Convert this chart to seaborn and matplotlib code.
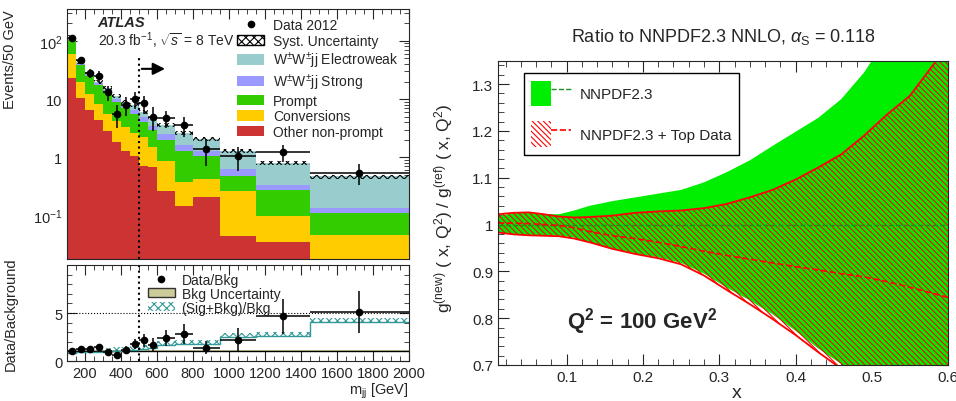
import numpy as np
import pandas as pd
import matplotlib
matplotlib.use('Agg')
import matplotlib.pyplot as plt
from matplotlib.patches import Patch
from matplotlib.lines import Line2D
from matplotlib.ticker import MultipleLocator, LogLocator, NullFormatter
from matplotlib.legend_handler import HandlerTuple
import seaborn as sns

# ---- left: m_jj distribution (events / 50 GeV) ----
edges = [100, 150, 200, 250, 300, 350, 400, 450, 500, 550, 600, 700, 800, 950, 1150, 1450, 2000]
ww_ewk = [5, 3, 1.3, 1.4, 1.3, 1.1, 1.1, 1.3, 1.0, 1.0, 1.1, 0.95, 0.75, 0.67, 0.46, 0.335]
ww_strong = [5, 2, 1.2, 1.2, 1.2, 1.2, 1.0, 0.9, 0.9, 0.5, 0.5, 0.35, 0.25, 0.15, 0.06, 0.025]
prompt = [45, 18.4, 12.5, 9.1, 7.5, 4.8, 3.6, 3.0, 1.9, 1.5, 1.13, 0.92, 0.62, 0.21, 0.183, 0.063]
conversions = [37, 9.1, 5.5, 4.0, 2.7, 2.4, 2.0, 1.55, 1.48, 0.82, 0.60, 0.232, 0.22, 0.225, 0.061, 0.047]
nonprompt = [23, 10.5, 6.5, 4.3, 2.8, 1.8, 1.3, 1.05, 0.72, 0.68, 0.27, 0.148, 0.21, 0.045, 0.036, 0.0]
syst_rel = 0.08

data = [110, 46, 28, 25, 13, 5.5, 8, 10, 8.5, 5, 4.7, 3.6, 1.4, 1.05, 1.25, 0.55]
data_err = [10.5, 6.8, 5.3, 5.0, 3.6, 2.3, 2.8, 3.2, 2.9, 2.2, 1.5, 1.35, 0.68, 0.46, 0.41, 0.22]

ratio = [1.0, 1.3, 1.2, 1.45, 0.95, 0.6, 1.15, 1.75, 2.15, 1.7, 2.4, 2.8, 1.4, 2.2, 4.65, 5.15]
ratio_err = [0.1, 0.18, 0.22, 0.3, 0.27, 0.25, 0.4, 0.55, 0.7, 0.75, 0.85, 1.05, 0.65, 1.2, 1.85, 2.2]
sig_bkg = [1.05, 1.1, 1.1, 1.15, 1.2, 1.25, 1.3, 1.35, 1.45, 1.55, 1.85, 1.95, 2.0, 2.7, 2.85, 4.25]
bkg_unc = 0.1

# ---- right: gluon PDF ratio ----
x_pdf = [0.01, 0.03, 0.05, 0.07, 0.09, 0.11, 0.13, 0.16, 0.19, 0.22, 0.25, 0.28,
         0.31, 0.34, 0.37, 0.40, 0.43, 0.46, 0.49, 0.52, 0.55, 0.58, 0.60]
green_hi = [1.018, 1.024, 1.026, 1.022, 1.022, 1.030, 1.040, 1.050, 1.058, 1.066, 1.074, 1.090,
            1.112, 1.137, 1.168, 1.198, 1.228, 1.268, 1.325, 1.40, 1.48, 1.57, 1.63]
green_lo = [0.983, 0.979, 0.977, 0.977, 0.976, 0.972, 0.962, 0.948, 0.938, 0.930, 0.918, 0.895,
            0.865, 0.838, 0.808, 0.773, 0.735, 0.702, 0.665, 0.63, 0.59, 0.55, 0.52]
green_mid = [1.0] * 23
red_hi = [1.022, 1.025, 1.026, 1.022, 1.017, 1.015, 1.016, 1.019, 1.025, 1.028, 1.030, 1.035,
          1.044, 1.058, 1.074, 1.096, 1.122, 1.150, 1.190, 1.235, 1.275, 1.34, 1.38]
red_lo = [0.983, 0.979, 0.977, 0.976, 0.975, 0.970, 0.962, 0.948, 0.937, 0.928, 0.915, 0.891,
          0.860, 0.830, 0.798, 0.764, 0.727, 0.692, 0.652, 0.61, 0.57, 0.53, 0.50]
red_mid = [1.003, 1.003, 1.002, 1.000, 0.998, 0.993, 0.985, 0.976, 0.970, 0.962, 0.953, 0.943,
           0.934, 0.926, 0.918, 0.910, 0.903, 0.895, 0.888, 0.878, 0.866, 0.853, 0.844]

sns.set_style('ticks')
plt.rcParams['font.family'] = ['Liberation Sans', 'DejaVu Sans']
plt.rcParams['hatch.linewidth'] = 0.8
plt.rcParams['mathtext.fontset'] = 'custom'
plt.rcParams['mathtext.rm'] = 'Liberation Sans'
plt.rcParams['mathtext.it'] = 'Liberation Sans:italic'
plt.rcParams['mathtext.bf'] = 'Liberation Sans:bold'

fig = plt.figure(figsize=(9.56, 4.02), dpi=100)
ax = fig.add_axes([0.0701, 0.353, 0.3577, 0.622])
axr = fig.add_axes([0.0701, 0.0995, 0.3577, 0.2385])
ax2 = fig.add_axes([0.521, 0.0896, 0.4707, 0.757])

edges_a = np.array(edges, dtype=float)
centers = 0.5 * (edges_a[1:] + edges_a[:-1])
halfw = 0.5 * (edges_a[1:] - edges_a[:-1])

names = [r'W$^{\pm}$W$^{\pm}$jj Electroweak', r'W$^{\pm}$W$^{\pm}$jj Strong', 'Prompt',
         'Conversions', 'Other non-prompt']
colors = ['#99cccc', '#9999ff', '#33cc00', '#ffcc00', '#cc3333']
rows = []
for name, vals in zip(names, [ww_ewk, ww_strong, prompt, conversions, nonprompt]):
    for c, v in zip(centers, vals):
        rows.append((name, c, v))
df = pd.DataFrame(rows, columns=['process', 'mjj', 'yield'])

sns.histplot(data=df, x='mjj', weights='yield', hue='process', hue_order=names,
             palette=dict(zip(names, colors)), multiple='stack', bins=edges,
             element='bars', alpha=1, linewidth=0, legend=False, ax=ax)
ax.set_yscale('log')

total = np.sum([ww_ewk, ww_strong, prompt, conversions, nonprompt], axis=0)
lo = np.r_[total * (1 - syst_rel), total[-1] * (1 - syst_rel)]
hi = np.r_[total * (1 + syst_rel), total[-1] * (1 + syst_rel)]
ax.fill_between(edges_a, lo, hi, step='post', facecolor='none', edgecolor='k',
                hatch='xxxx', linewidth=0)
ax.errorbar(centers, data, xerr=halfw, yerr=data_err, fmt='o', color='k', ms=4.5,
            elinewidth=1.1, capsize=0)

ax.set_xlim(100, 2000)
ax.set_ylim(0.018, 350)
ax.vlines(500, 0.018, 57, colors='k', linestyles=':', linewidth=1.5)
ax.annotate('', xy=(660, 33), xytext=(500, 33),
            arrowprops=dict(arrowstyle='-|>', color='k', lw=1.5, mutation_scale=18))
ax.set_xlabel('')
ax.set_ylabel('Events/50 GeV', fontsize=10.5, loc='top')
ax.yaxis.set_label_coords(-0.145, 1.0)
ax.set_yticks([0.1, 1, 10, 100])
ax.set_yticklabels(['10$^{-1}$', '1', '10', '10$^{2}$'])
ax.yaxis.set_minor_locator(LogLocator(base=10, subs=np.arange(2, 10)))
ax.yaxis.set_minor_formatter(NullFormatter())
ax.xaxis.set_major_locator(MultipleLocator(200))
ax.xaxis.set_minor_locator(MultipleLocator(50))
ax.tick_params(axis='x', labelbottom=False)
ax.text(0.09, 0.948, 'ATLAS', transform=ax.transAxes, fontsize=10.5, fontweight='bold',
        fontstyle='italic', va='center')
ax.text(0.09, 0.878, r'20.3 fb$^{-1}$, $\sqrt{s}$ = 8 TeV', transform=ax.transAxes,
        fontsize=10, va='center')

handles = [Line2D([], [], marker='o', color='k', ls='none', ms=4.5),
           Patch(facecolor='white', edgecolor='k', hatch='xxxx', lw=1)]
handles += [Patch(facecolor=c, edgecolor='none') for c in colors]
labels = ['Data 2012', 'Syst. Uncertainty'] + names
ax.legend(handles, labels, loc='upper left', bbox_to_anchor=(0.48, 0.985), frameon=False,
          fontsize=10, handlelength=2.0, handleheight=0.75, labelspacing=0.12,
          handletextpad=0.6, borderaxespad=0)

# ratio panel
axr.fill_between(edges_a, 1 - bkg_unc, 1 + bkg_unc, facecolor='#cccc99', edgecolor='none')
axr.axhline(1, color='k', lw=1)
sb = np.r_[sig_bkg, sig_bkg[-1]]
axr.fill_between(edges_a, sb - 0.2, sb + 0.2, step='post', facecolor='none',
                 edgecolor='#339999', hatch='xxxx', linewidth=0)
axr.step(edges_a, sb - 0.2, where='post', color='#339999', lw=1)
axr.errorbar(centers, ratio, xerr=halfw, yerr=ratio_err, fmt='o', color='k', ms=4.5,
             elinewidth=1.1, capsize=0)
axr.axhline(5, color='k', ls=':', lw=0.8)
axr.axvline(500, color='k', ls=':', lw=1.5)
axr.set_xlim(100, 2000)
axr.set_ylim(0, 10)
axr.set_yticks([0, 5])
axr.yaxis.set_minor_locator(MultipleLocator(1))
axr.xaxis.set_major_locator(MultipleLocator(200))
axr.xaxis.set_minor_locator(MultipleLocator(50))
axr.set_ylabel('Data/Background', fontsize=10.5)
axr.yaxis.set_label_coords(-0.145, 0.5)
axr.set_xlabel(r'm$_{\rm jj}$ [GeV]', fontsize=10.5, loc='right')
axr.xaxis.set_label_coords(1.0, -0.205)
rh = [Line2D([], [], marker='o', color='k', ls='none', ms=4.5),
      Patch(facecolor='#cccc99', edgecolor='#333333', lw=1),
      Patch(facecolor='none', edgecolor='#339999', hatch='xxxx', lw=0)]
axr.legend(rh, ['Data/Bkg', 'Bkg Uncertainty', '(Sig+Bkg)/Bkg'], loc='upper left',
           bbox_to_anchor=(0.215, 1.0), frameon=False, fontsize=10, handlelength=1.9,
           handleheight=0.6, labelspacing=0.0, handletextpad=0.5, borderaxespad=0.15)

for a in (ax, axr):
    a.tick_params(which='both', direction='in', top=True, right=True, labelsize=10.5)
    a.tick_params(which='major', length=7)
    a.tick_params(which='minor', length=3.5)

# ---- right panel ----
xp = np.array(x_pdf)
ax2.fill_between(xp, green_lo, green_hi, color='#00ee00', linewidth=0)
sns.lineplot(x=x_pdf, y=green_mid, color='#228b22', ls='--', lw=1, ax=ax2)
ax2.fill_between(xp, red_lo, red_hi, facecolor='none', edgecolor='#ff0000',
                 hatch='\\\\\\\\\\\\', linewidth=0)
sns.lineplot(x=x_pdf, y=red_hi, color='#ff0000', lw=1.3, ax=ax2)
sns.lineplot(x=x_pdf, y=red_lo, color='#ff0000', lw=1.3, ax=ax2)
sns.lineplot(x=x_pdf, y=red_mid, color='#ff0000', ls='--', lw=1.2, ax=ax2)
ax2.set_xlim(0.01, 0.6)
ax2.set_ylim(0.7, 1.35)
ax2.set_yticks([0.7, 0.8, 0.9, 1.0, 1.1, 1.2, 1.3])
ax2.set_yticklabels(['0.7', '0.8', '0.9', '1', '1.1', '1.2', '1.3'])
ax2.set_xticks([0.1, 0.2, 0.3, 0.4, 0.5, 0.6])
ax2.xaxis.set_minor_locator(MultipleLocator(0.02))
ax2.yaxis.set_minor_locator(MultipleLocator(0.02))
ax2.tick_params(which='both', direction='in', top=True, right=True, labelsize=11)
ax2.tick_params(which='major', length=8)
ax2.tick_params(which='minor', length=4)
ax2.set_xlabel('x', fontsize=14)
ax2.xaxis.set_label_coords(0.53, -0.062)
ax2.set_ylabel(r'g$^{(\rm new)}$ ( x, Q$^{2}$) / g$^{(\rm ref)}$ ( x, Q$^{2}$)', fontsize=12.5)
ax2.yaxis.set_label_coords(-0.095, 0.52)
ax2.set_title(r'Ratio to NNPDF2.3 NNLO, $\alpha_{\rm S}$ = 0.118', fontsize=13, pad=14)
ax2.text(0.153, 0.145, r'Q$^{\mathbf{2}}$ = 100 GeV$^{\mathbf{2}}$', transform=ax2.transAxes,
         fontsize=16, fontweight='bold', va='center')

h_nn = (Patch(facecolor='#00ee00', edgecolor='none'),
        Line2D([], [], color='#228b22', ls='--', lw=1))
h_top = (Patch(facecolor='white', edgecolor='#ff0000', hatch='\\\\\\\\\\\\', lw=0),
         Line2D([], [], color='#ff0000', ls='--', lw=1.2))
leg = ax2.legend([h_nn, h_top], ['NNPDF2.3', 'NNPDF2.3 + Top Data'],
                 handler_map={tuple: HandlerTuple(ndivide=None, pad=0)},
                 loc='upper left', bbox_to_anchor=(0.04, 0.985), fontsize=11,
                 handlelength=2.6, handleheight=2.2, labelspacing=1.0, borderpad=0.5,
                 handletextpad=0.6, fancybox=False, framealpha=1, edgecolor='k')
leg.get_frame().set_linewidth(1)

fig.savefig('out.png', dpi=100)
